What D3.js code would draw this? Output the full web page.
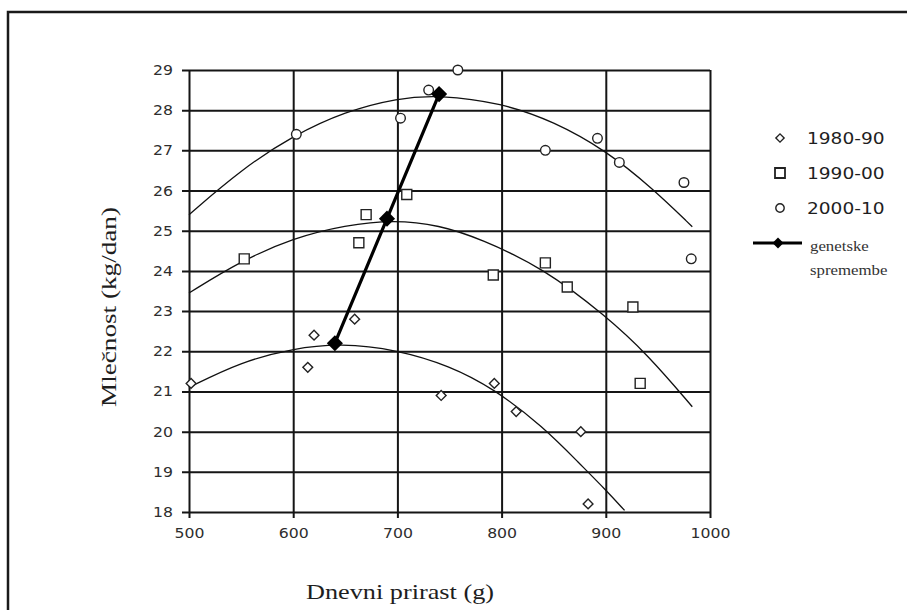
<!DOCTYPE html>
<html lang="sl">
<head>
<meta charset="UTF-8">
<title>Mlečnost in dnevni prirast</title>
<style>
    body{ margin:0; background:#fff; }
    svg{ display:block; background:#fff; }
    .tick text{
        font-family: "DejaVu Sans", sans-serif;
        font-size: 14px;
        fill: #2e2e2e;
    }
    .tick line{ stroke:#151515; stroke-width:2px; }
    .domain{ display:none; }
    .trend{ fill:none; stroke:#111; stroke-width:1.3px; }
    .pt{ fill:#fff; stroke:#222; stroke-width:1.4px; }
    .gen{ fill:none; stroke:#000; stroke-width:3.2px; }
    .axisTitle{
        font-family: "Liberation Serif", serif;
        font-size: 22px;
        fill: #1e1e1e;
    }
    .legend text{
        font-family: "DejaVu Sans", sans-serif;
        font-size: 16px;
        fill: #1e1e1e;
    }
    .legend text.genText{
        font-family: "Liberation Serif", serif;
        font-size: 14px;
        fill: #333;
    }
</style>
<script src="https://cdn.jsdelivr.net/npm/d3@7"></script>
</head>
<body>
<script>
    // ticks
    const xTicks = [500,600,700,800,900,1000];
    const yTicks = [18,19,20,21,22,23,24,25,26,27,28,29];

    // measured points per decade (dnevni prirast g, mlečnost kg/dan)
    const pts1980 = [[502,21.2],[614,21.6],[620,22.4],[659,22.8],[742,20.9],[793,21.2],[814,20.5],[876,20.0],[883,18.2]];
    const pts1990 = [[553,24.3],[663,24.7],[670,25.4],[709,25.9],[792,23.9],[842,24.2],[863,23.6],[926,23.1],[933,21.2]];
    const pts2000 = [[603,27.4],[703,27.8],[730,28.5],[758,29.0],[842,27.0],[892,27.3],[913,26.7],[975,26.2],[982,24.3]];

    // trend curves
    const trend1980 = [[500,21.1],[550,21.74],[600,22.07],[645,22.2],[700,22.04],[750,21.64],[792,21.08],[840,20.12],[875,19.2],[900,18.55],[918,18.04]];
    const trend1990 = [[500,23.45],[550,24.25],[600,24.82],[650,25.14],[697,25.27],[740,25.14],[780,24.8],[840,24.07],[900,22.88],[940,21.92],[983,20.62]];
    const trend2000 = [[500,25.4],[550,26.52],[600,27.37],[650,27.97],[700,28.3],[740,28.38],[800,28.18],[850,27.72],[900,27.0],[945,26.05],[983,25.1]];

    // genetic change
    const genetic = [[640,22.2],[690,25.3],[740,28.4]];

    const legendItems = ["1980-90","1990-00","2000-10"];
    const genLabel = ["genetske","spremembe"];

    const width = 907, height = 610;
    const svg = d3.select("body").append("svg")
        .attr("width",width).attr("height",height);

    // outer frame of the scanned figure
    svg.append("rect")
        .attr("x",8).attr("y",12)
        .attr("width",1000).attr("height",700)
        .attr("fill","none").attr("stroke","#1a1a1a").attr("stroke-width",2.5);

    const x = d3.scaleLinear().domain([500,1000]).range([189,710]);
    const y = d3.scaleLinear().domain([18,29]).range([512,70]);

    // stretch text horizontally (the scan is a bit wide)
    function stretch(sel,k){
        sel.each(function(){
            const w = this.getComputedTextLength();
            d3.select(this).attr("textLength",w*k).attr("lengthAdjust","spacingAndGlyphs");
        });
    }

    /* ---------- grid / axes ---------- */
    const gy = svg.append("g").attr("transform",`translate(${x(500)},0)`)
        .call(d3.axisLeft(y).tickValues(yTicks).tickFormat(d3.format("d"))
            .tickSize(-(x(1000)-x(500))).tickPadding(16));
    gy.selectAll(".tick line").attr("x1",-7);
    stretch(gy.selectAll(".tick text"),1.12);

    const gx = svg.append("g").attr("transform",`translate(0,${y(18)})`)
        .call(d3.axisBottom(x).tickValues(xTicks).tickFormat(d3.format("d"))
            .tickSize(-(y(18)-y(29))).tickPadding(16));
    gx.selectAll(".tick line").attr("y1",6);
    stretch(gx.selectAll(".tick text"),1.12);

    /* ---------- trend curves ---------- */
    const line = d3.line().x(d=>x(d[0])).y(d=>y(d[1])).curve(d3.curveBasis);
    svg.append("g").selectAll("path")
        .data([trend1980,trend1990,trend2000])
        .enter().append("path")
        .attr("class","trend")
        .attr("d",line);

    /* ---------- points ---------- */
    const diamond = d3.symbol(d3.symbolSquare,48)();
    const square = d3.symbol(d3.symbolSquare,100)();

    svg.append("g").selectAll("path")
        .data(pts1980).enter().append("path")
        .attr("class","pt")
        .attr("d",diamond)
        .attr("transform",d=>`translate(${x(d[0])},${y(d[1])}) rotate(45)`);

    svg.append("g").selectAll("path")
        .data(pts1990).enter().append("path")
        .attr("class","pt")
        .attr("d",square)
        .attr("transform",d=>`translate(${x(d[0])},${y(d[1])})`);

    svg.append("g").selectAll("circle")
        .data(pts2000).enter().append("circle")
        .attr("class","pt")
        .attr("cx",d=>x(d[0])).attr("cy",d=>y(d[1])).attr("r",4.8);

    /* ---------- genetic change ---------- */
    const straight = d3.line().x(d=>x(d[0])).y(d=>y(d[1]));
    svg.append("path").datum(genetic).attr("class","gen").attr("d",straight);
    svg.append("g").selectAll("path")
        .data(genetic).enter().append("path")
        .attr("d",d3.symbol(d3.symbolSquare,130)())
        .attr("fill","#000")
        .attr("transform",d=>`translate(${x(d[0])},${y(d[1])}) rotate(45)`);

    /* ---------- axis titles ---------- */
    svg.append("text").attr("class","axisTitle")
        .attr("x",400).attr("y",599)
        .attr("text-anchor","middle")
        .attr("textLength",188).attr("lengthAdjust","spacingAndGlyphs")
        .text("Dnevni prirast (g)");

    svg.append("text").attr("class","axisTitle")
        .attr("transform","translate(116,307) rotate(-90)")
        .attr("text-anchor","middle")
        .attr("textLength",200).attr("lengthAdjust","spacingAndGlyphs")
        .text("Mlečnost (kg/dan)");

    /* ---------- legend ---------- */
    const legend = svg.append("g").attr("class","legend");
    const rows = legend.selectAll(".row")
        .data(legendItems).enter().append("g")
        .attr("transform",(d,i)=>`translate(780,${138+i*35})`);
    rows.filter((d,i)=>i===0).append("path")
        .attr("class","pt").attr("d",d3.symbol(d3.symbolSquare,34)()).attr("transform","rotate(45)");
    rows.filter((d,i)=>i===1).append("path")
        .attr("class","pt").attr("d",d3.symbol(d3.symbolSquare,100)()).style("stroke-width","1.8px");
    rows.filter((d,i)=>i===2).append("circle")
        .attr("class","pt").attr("r",4.2);
    const legText = rows.append("text")
        .attr("x",27).attr("y",6)
        .text(d=>d);
    stretch(legText,1.16);

    const genRow = legend.append("g").attr("transform","translate(753,243)");
    genRow.append("line").attr("x1",0).attr("x2",49).attr("y1",0).attr("y2",0)
        .attr("stroke","#000").attr("stroke-width",3);
    genRow.append("path").attr("d",d3.symbol(d3.symbolSquare,60)())
        .attr("fill","#000").attr("transform","translate(25,0) rotate(45)");
    const gText = genRow.selectAll(".genText")
        .data(genLabel).enter().append("text")
        .attr("class","genText")
        .attr("x",57).attr("y",(d,i)=>8+i*24)
        .text(d=>d);
    stretch(gText,1.2);
</script>
</body>
</html>
